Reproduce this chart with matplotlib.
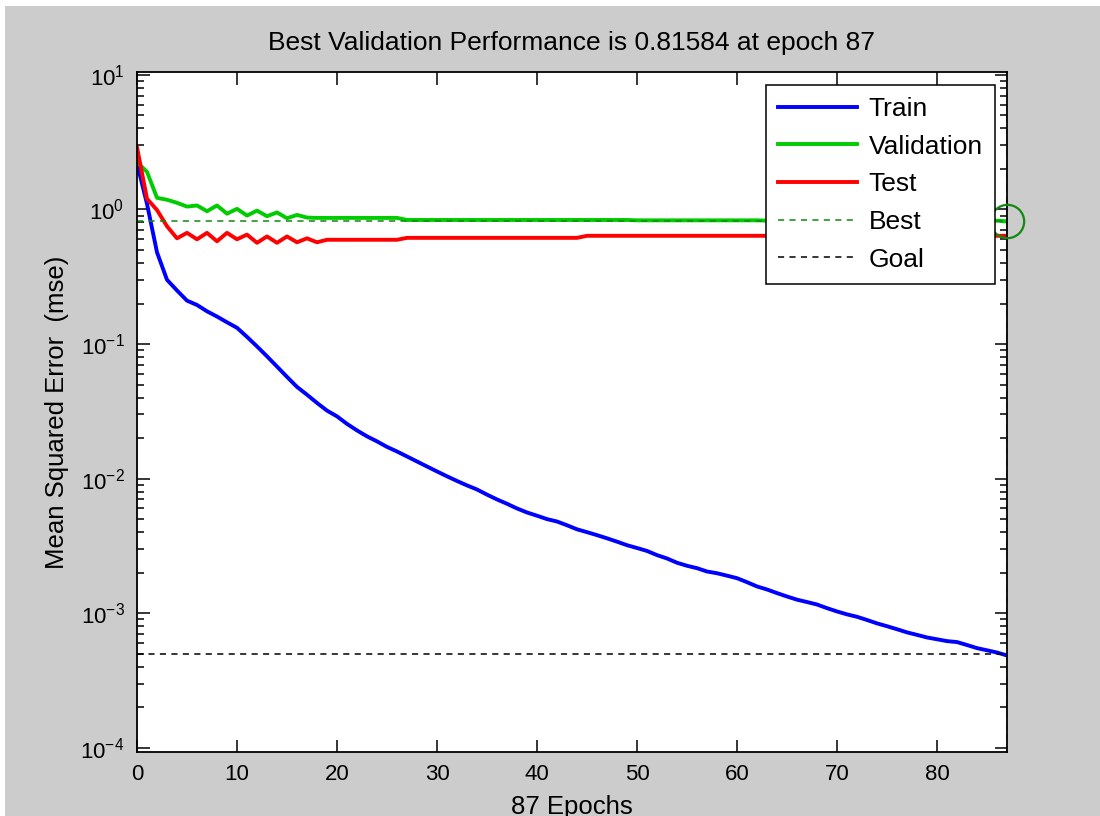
import numpy as np
import matplotlib.pyplot as plt
from matplotlib.patches import Rectangle

plt.rcParams['font.family'] = ['Liberation Sans', 'DejaVu Sans']
plt.rcParams['mathtext.default'] = 'regular'

# performance per epoch
epochs = list(range(88))

train_mse = [2.2, 1.1, 0.48, 0.30, 0.25, 0.21, 0.195, 0.175, 0.16, 0.145,
             0.132, 0.113, 0.096, 0.081, 0.068, 0.057, 0.048, 0.042, 0.0365, 0.032,
             0.029, 0.0255, 0.0228, 0.0206, 0.0189, 0.0172, 0.0159, 0.0146, 0.0134, 0.0123,
             0.0113, 0.0104, 0.0096, 0.0089, 0.0083, 0.0076, 0.0070, 0.0065, 0.0060, 0.0056,
             0.0053, 0.0050, 0.0048, 0.0045, 0.0042, 0.0040, 0.0038, 0.0036, 0.0034, 0.0032,
             0.00305, 0.0029, 0.0027, 0.00255, 0.00237, 0.00225, 0.00216, 0.00204, 0.00198, 0.0019,
             0.00182, 0.0017, 0.00158, 0.0015, 0.00141, 0.00133, 0.00126, 0.00121, 0.00116, 0.00109,
             0.00103, 0.00098, 0.00094, 0.00089, 0.00084, 0.0008, 0.00076, 0.00072, 0.00069, 0.00066,
             0.00064, 0.00062, 0.00061, 0.00058, 0.00055, 0.00053, 0.00051, 0.000485]

val_mse = [2.25, 1.9, 1.22, 1.18, 1.12, 1.05, 1.07, 0.97, 1.07, 0.93,
           1.01, 0.90, 0.98, 0.89, 0.95, 0.86, 0.91, 0.87, 0.865, 0.865,
           0.865, 0.865, 0.865, 0.865, 0.865, 0.865, 0.865, 0.835, 0.835, 0.835,
           0.835, 0.835, 0.835, 0.835, 0.835, 0.835, 0.835, 0.835, 0.835, 0.835,
           0.835, 0.835, 0.835, 0.835, 0.835, 0.835, 0.835, 0.835, 0.835, 0.835,
           0.83, 0.83, 0.83, 0.83, 0.83, 0.83, 0.83, 0.83, 0.83, 0.83,
           0.83, 0.83, 0.83, 0.825, 0.825, 0.825, 0.825, 0.825, 0.825, 0.825,
           0.825, 0.825, 0.825, 0.825, 0.825, 0.825, 0.825, 0.825, 0.825, 0.825,
           0.825, 0.825, 0.825, 0.825, 0.825, 0.825, 0.825, 0.81584]

test_mse = [2.9, 1.2, 0.99, 0.75, 0.61, 0.67, 0.60, 0.67, 0.58, 0.67,
            0.60, 0.65, 0.565, 0.63, 0.565, 0.63, 0.57, 0.61, 0.57, 0.595,
            0.595, 0.595, 0.595, 0.595, 0.595, 0.595, 0.595, 0.615, 0.615, 0.615,
            0.615, 0.615, 0.615, 0.615, 0.615, 0.615, 0.615, 0.615, 0.615, 0.615,
            0.615, 0.615, 0.615, 0.615, 0.615, 0.637, 0.637, 0.637, 0.637, 0.637,
            0.637, 0.637, 0.637, 0.637, 0.637, 0.637, 0.637, 0.637, 0.637, 0.637,
            0.637, 0.637, 0.637, 0.637, 0.637, 0.637, 0.637, 0.637, 0.637, 0.637,
            0.637, 0.637, 0.637, 0.637, 0.637, 0.637, 0.637, 0.637, 0.637, 0.637,
            0.637, 0.637, 0.637, 0.637, 0.637, 0.637, 0.637, 0.637]

best_epoch = 87
best_perf = 0.81584
goal = 5e-4

fig = plt.figure(figsize=(11, 8.16), dpi=100, facecolor='#cccccc')
# thin white strips along the top and left edge of the screenshot
fig.patches.append(Rectangle((0, 1 - 6 / 816), 1, 6 / 816, transform=fig.transFigure,
                             facecolor='white', edgecolor='none'))
fig.patches.append(Rectangle((0, 0), 5 / 1100, 1, transform=fig.transFigure,
                             facecolor='white', edgecolor='none'))

ax = fig.add_axes([137 / 1100, 1 - 752 / 816, 870 / 1100, 680 / 816])
ax.set_facecolor('white')

lw = 2.8
ax.semilogy(epochs, train_mse, color='#0000ff', lw=lw, label='Train')
ax.semilogy(epochs, val_mse, color='#00cc00', lw=lw, label='Validation')
ax.semilogy(epochs, test_mse, color='#ff0000', lw=lw, label='Test')
ax.axhline(best_perf, color='#118811', lw=1.1, dashes=(4, 3.5), label='Best')
ax.axvline(best_epoch, color='#118811', lw=1.1, dashes=(4, 3.5))
ax.axhline(goal, color='black', lw=1.1, dashes=(4, 3.5), label='Goal')
ax.plot([best_epoch], [best_perf], 'o', ms=24, mfc='none', mec='#118811', mew=1.6,
        clip_on=False, zorder=5)

ax.set_xlim(0, 87)
ax.set_ylim(9.3e-5, 10.5)
ax.set_xticks([0, 10, 20, 30, 40, 50, 60, 70, 80])
ax.set_yticks([1e-4, 1e-3, 1e-2, 1e-1, 1e0, 1e1])

for s in ax.spines.values():
    s.set_linewidth(1.3)
ax.tick_params(which='both', direction='in', top=True, right=True, width=1.1,
               labelsize=16, colors='black')
ax.tick_params(which='major', length=9, pad=9)
ax.tick_params(which='minor', length=5)
ax.tick_params(axis='x', which='minor', bottom=False, top=False)

ax.set_title('Best Validation Performance is 0.81584 at epoch 87', fontsize=19, pad=16)
ax.set_ylabel('Mean Squared Error  (mse)', fontsize=18.5, labelpad=8)
ax.set_xlabel('87 Epochs', fontsize=18.5, labelpad=7)

leg = ax.legend(loc='upper right', bbox_to_anchor=(0.986, 0.981), borderaxespad=0,
                fontsize=19, handlelength=3.0, handletextpad=0.45, labelspacing=0.52,
                borderpad=0.45, fancybox=False, framealpha=1, edgecolor='black')
leg.get_frame().set_linewidth(1.1)

fig.savefig('out.png', dpi=100, facecolor=fig.get_facecolor())
